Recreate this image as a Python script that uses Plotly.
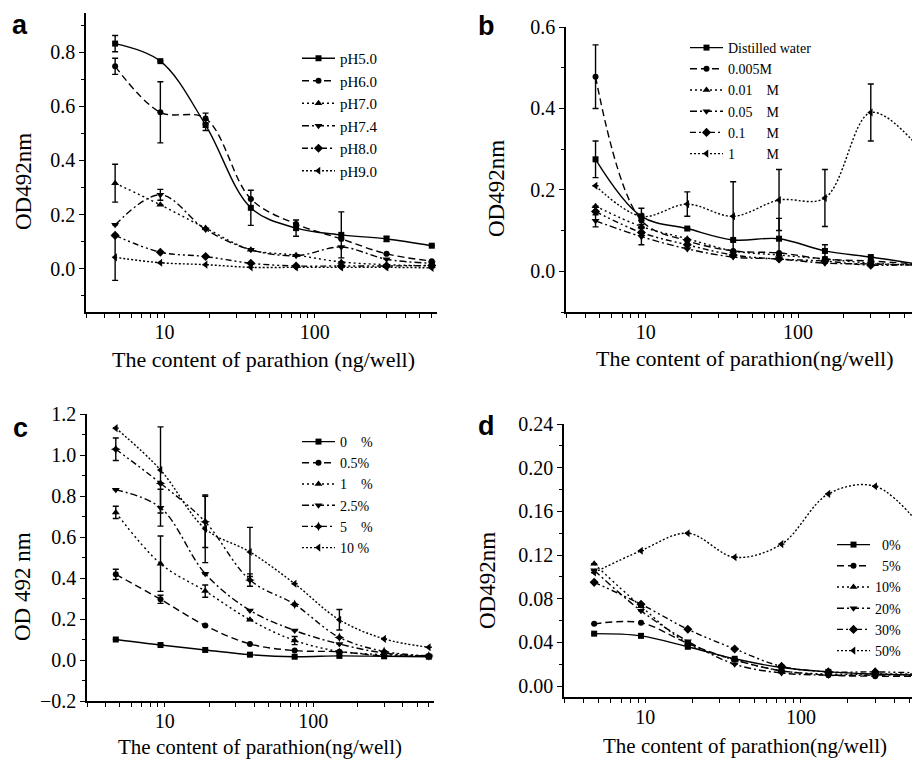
import math
import plotly.graph_objects as go

# ---------------- data ----------------
x_ng = [4.6875, 9.375, 18.75, 37.5, 75, 150, 300, 600]

# panel a : pH
a_names = ["pH5.0", "pH6.0", "pH7.0", "pH7.4", "pH8.0", "pH9.0"]
a_vals = [
    [0.832, 0.767, 0.531, 0.225, 0.150, 0.125, 0.110, 0.085],
    [0.748, 0.578, 0.555, 0.258, 0.165, 0.110, 0.055, 0.028],
    [0.316, 0.236, 0.150, 0.070, 0.050, 0.025, 0.015, 0.010],
    [0.162, 0.273, 0.145, 0.070, 0.048, 0.080, 0.035, 0.020],
    [0.123, 0.061, 0.045, 0.020, 0.010, 0.010, 0.010, 0.012],
    [0.042, 0.022, 0.015, 0.005, 0.005, 0.005, 0.005, 0.003],
]
a_errs = [
    [0.03, 0, 0.02, 0.065, 0.03, 0.085, 0.01, 0],
    [0.03, 0.113, 0.02, 0, 0, 0, 0, 0],
    [0.07, 0, 0, 0, 0, 0, 0, 0],
    [0, 0.02, 0, 0, 0, 0, 0, 0],
    [0, 0, 0, 0, 0, 0, 0, 0],
    [0.085, 0, 0, 0, 0, 0, 0, 0],
]

# panel b : ionic strength
NB = "\u00a0"
b_names = ["Distilled water", "0.005M", "0.01" + NB * 4 + "M", "0.05" + NB * 4 + "M",
           "0.1" + NB * 6 + "M", "1" + NB * 9 + "M"]
b_vals = [
    [0.275, 0.135, 0.105, 0.077, 0.080, 0.050, 0.035, 0.018],
    [0.478, 0.125, 0.075, 0.050, 0.045, 0.030, 0.025, 0.018],
    [0.160, 0.110, 0.080, 0.050, 0.040, 0.030, 0.020, 0.015],
    [0.124, 0.085, 0.055, 0.035, 0.030, 0.020, 0.018, 0.015],
    [0.147, 0.095, 0.065, 0.040, 0.030, 0.025, 0.015, 0.017],
    [0.210, 0.135, 0.165, 0.135, 0.175, 0.180, 0.390, 0.310],
]
b_errs = [
    [0.045, 0.02, 0, 0, 0.05, 0.015, 0, 0],
    [0.078, 0, 0, 0, 0, 0, 0, 0],
    [0, 0, 0, 0, 0, 0, 0, 0],
    [0.015, 0.02, 0, 0, 0, 0, 0, 0],
    [0, 0, 0, 0, 0, 0, 0, 0],
    [0, 0, 0.03, 0.085, 0.075, 0.07, 0.07, 0],
]

# panel c : methanol content
c_names = ["0" + NB * 4 + "%", "0.5%", "1" + NB * 4 + "%", "2.5%", "5" + NB * 4 + "%", "10" + NB + "%"]
c_vals = [
    [0.100, 0.073, 0.049, 0.026, 0.016, 0.020, 0.018, 0.016],
    [0.418, 0.296, 0.168, 0.078, 0.046, 0.040, 0.020, 0.020],
    [0.720, 0.470, 0.336, 0.196, 0.095, 0.042, 0.026, 0.020],
    [0.830, 0.743, 0.421, 0.242, 0.144, 0.078, 0.034, 0.018],
    [1.028, 0.862, 0.674, 0.390, 0.271, 0.110, 0.042, 0.020],
    [1.131, 0.927, 0.640, 0.527, 0.372, 0.196, 0.103, 0.062],
]
c_errs = [
    [0, 0, 0, 0, 0, 0, 0, 0],
    [0.025, 0.02, 0, 0, 0, 0, 0, 0],
    [0.03, 0.135, 0.03, 0, 0.02, 0, 0, 0],
    [0, 0.09, 0, 0, 0, 0, 0, 0],
    [0.055, 0, 0.125, 0.03, 0, 0, 0, 0],
    [0, 0.21, 0.165, 0.12, 0, 0.05, 0, 0],
]

# panel d : solvent content
d_names = [NB * 2 + "0%", NB * 2 + "5%", "10%", "20%", "30%", "50%"]
d_vals = [
    [0.048, 0.046, 0.036, 0.025, 0.017, 0.013, 0.011, 0.010],
    [0.057, 0.058, 0.039, 0.024, 0.014, 0.010, 0.009, 0.009],
    [0.112, 0.073, 0.039, 0.024, 0.014, 0.011, 0.011, 0.011],
    [0.106, 0.069, 0.041, 0.020, 0.012, 0.010, 0.010, 0.010],
    [0.095, 0.075, 0.052, 0.034, 0.018, 0.013, 0.013, 0.012],
    [0.104, 0.124, 0.140, 0.118, 0.130, 0.176, 0.183, 0.145],
]
d_errs = [[0] * 8 for _ in range(6)]

x_tickvals = [3, 4, 5, 6, 7, 8, 9, 10, 20, 30, 40, 50, 60, 70, 80, 90, 100, 200, 300, 400, 500, 600]
x_ticktext = ["", "", "", "", "", "", "", "10", "", "", "", "", "", "", "", "", "100", "", "", "", "", ""]

# ---------------- styles ----------------
PAGE_W, PAGE_H = 920, 761
OFF = 8  # default body margin of the html page
W, H = PAGE_W - OFF, PAGE_H - OFF
SERIF = "Liberation Serif, Times New Roman, serif"
dashes = ["solid", "7px,4px", "2px,3px", "7px,3px,2px,3px", "6px,3px,2px,3px,2px,3px", "2px,2px"]
symbols_std = ["square", "circle", "triangle-up", "triangle-down", "diamond", "triangle-left"]
symbols_c = ["square", "circle", "triangle-up", "triangle-down", "star-diamond", "triangle-left"]
sizes = [6, 6, 7, 7, 7, 7]


def px_x(p):
    return (p - OFF) / W


def px_y(p):
    return 1 - (p - OFF) / H


fig = go.Figure()

panels = [
    ("", "", "legend", a_names, a_vals, a_errs, symbols_std),
    ("2", "2", "legend2", b_names, b_vals, b_errs, symbols_std),
    ("3", "3", "legend3", c_names, c_vals, c_errs, symbols_c),
    ("4", "4", "legend4", d_names, d_vals, d_errs, symbols_std),
]

for xs, ys, leg, names, vals, errs, syms in panels:
    for i, (nm, v, e) in enumerate(zip(names, vals, errs)):
        fig.add_trace(go.Scatter(
            x=x_ng, y=v, name=nm, mode="lines+markers",
            xaxis="x" + xs, yaxis="y" + ys, legend=leg,
            line=dict(color="black", width=1.4, dash=dashes[i], shape="spline", smoothing=1.0),
            marker=dict(symbol=syms[i], size=sizes[i], color="black"),
            error_y=dict(type="data", array=e, visible=True, color="black", thickness=1.4, width=3),
        ))


def xaxis(domain, rng, anchor):
    return dict(
        type="log", domain=domain, range=rng, anchor=anchor, automargin=False,
        showline=True, linecolor="black", linewidth=1.6, mirror=False,
        ticks="outside", ticklen=4, tickwidth=1.3, tickcolor="black",
        tickmode="array", tickvals=x_tickvals, ticktext=x_ticktext,
        ticklabelstandoff=-3,
        showgrid=False, zeroline=False,
        tickfont=dict(family=SERIF, size=20, color="black"),
    )


def yaxis(domain, rng, dtick, mdtick, fmt, anchor):
    return dict(
        domain=domain, range=rng, anchor=anchor, automargin=False,
        showline=True, linecolor="black", linewidth=1.6, mirror=False,
        ticks="outside", ticklen=5, tickwidth=1.3, tickcolor="black",
        tickmode="linear", tick0=0, dtick=dtick, tickformat=fmt,
        minor=dict(tickmode="linear", tick0=0, dtick=mdtick, ticks="outside", ticklen=3,
                   tickwidth=1.2, tickcolor="black", showgrid=False),
        showgrid=False, zeroline=False,
        tickfont=dict(family=SERIF, size=20, color="black"),
    )


L3 = math.log10(3)

legend_common = dict(
    xanchor="left", yanchor="top", bgcolor="rgba(0,0,0,0)", borderwidth=0,
    itemwidth=33, tracegroupgap=0,
)
LF15 = dict(family=SERIF, size=15, color="black")
LF14 = dict(family=SERIF, size=14, color="black")

fig.update_layout(
    template="none",
    width=W, height=H,
    margin=dict(l=0, r=0, t=0, b=0, autoexpand=False),
    paper_bgcolor="white", plot_bgcolor="white",
    showlegend=True,
    xaxis=xaxis([px_x(86), px_x(437)], [L3, math.log10(650)], "y"),
    xaxis2=xaxis([px_x(566), 1.0], [L3, 2.80], "y2"),
    xaxis3=xaxis([px_x(87), px_x(434)], [L3, math.log10(650)], "y3"),
    xaxis4=xaxis([px_x(564), 1.0], [L3, 2.765], "y4"),
    yaxis=yaxis([px_y(312), px_y(13)], [-0.16, 0.945], 0.2, 0.1, ".1f", "x"),
    yaxis2=yaxis([px_y(312), px_y(27)], [-0.1, 0.6], 0.2, 0.1, ".1f", "x2"),
    yaxis3=yaxis([px_y(701), px_y(414)], [-0.2, 1.2], 0.2, 0.1, ".1f", "x3"),
    yaxis4=yaxis([px_y(697), px_y(424)], [-0.01, 0.24], 0.04, 0.02, ".2f", "x4"),
    legend=dict(x=px_x(297), y=px_y(42), font=LF15, **legend_common),
    legend2=dict(x=px_x(685), y=px_y(32), font=LF14, **legend_common),
    legend3=dict(x=px_x(297), y=px_y(426), font=LF14, **legend_common),
    legend4=dict(x=px_x(832), y=px_y(529), font=LF14, **legend_common),
)

annos = []
# panel letters
for txt, cx, cy in [("a", 20, 25), ("b", 486, 26), ("c", 20, 428), ("d", 486, 426)]:
    annos.append(dict(text="<b>%s</b>" % txt, x=px_x(cx), y=px_y(cy), xref="paper", yref="paper",
                      xanchor="center", yanchor="middle", showarrow=False,
                      font=dict(family="Liberation Sans, Arial, sans-serif", size=27, color="black")))
# x titles
for txt, cx, cy, fs in [("The content of parathion (ng/well)", 263, 359, 22),
                        ("The content of parathion(ng/well)", 745, 358, 22),
                        ("The content of parathion(ng/well)", 260, 747, 21),
                        ("The content of parathion(ng/well)", 745, 746, 21)]:
    annos.append(dict(text=txt, x=px_x(cx), y=px_y(cy), xref="paper", yref="paper",
                      xanchor="center", yanchor="middle", showarrow=False,
                      font=dict(family=SERIF, size=fs, color="black")))
# y titles
for txt, cx, cy in [("OD492nm", 23, 182), ("OD492nm", 496, 189),
                    ("OD 492 nm", 22, 587), ("OD492nm", 487, 581)]:
    annos.append(dict(text=txt, x=px_x(cx), y=px_y(cy), xref="paper", yref="paper",
                      xanchor="center", yanchor="middle", showarrow=False, textangle=-90,
                      font=dict(family=SERIF, size=23, color="black")))
fig.update_layout(annotations=annos)

fig.write_html("out.html")
